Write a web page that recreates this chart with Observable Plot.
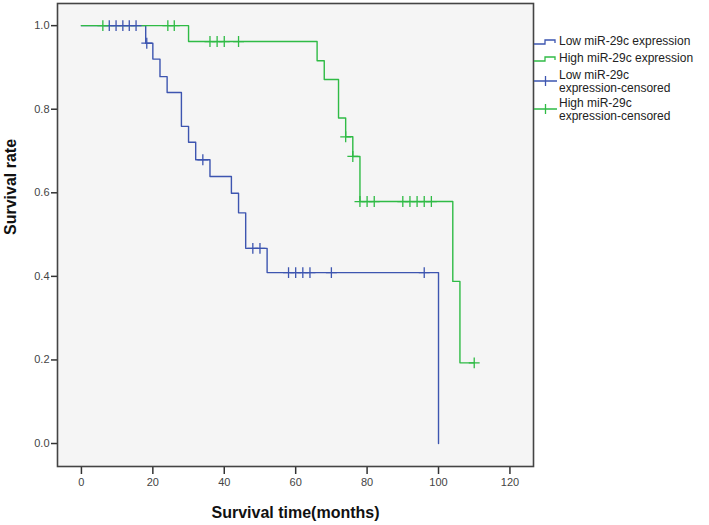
<!DOCTYPE html>
<html>
<head>
<meta charset="utf-8">
<script src="https://cdn.jsdelivr.net/npm/d3@7"></script>
<script src="https://cdn.jsdelivr.net/npm/@observablehq/plot@0.6"></script>
<style>
  html, body { margin: 0; padding: 0; background: #fff; }
  #wrap { position: relative; width: 709px; height: 525px; font-family: "Liberation Sans", Arial, sans-serif; }
  #legend { position: absolute; left: 0; top: 0; pointer-events: none; }
</style>
</head>
<body>
<div id="wrap"></div>
<script>
// ---- data ----
const lowTimes = [0, 18, 20, 22, 24, 28, 30, 32, 36, 42, 44, 46, 52, 100];
const lowSurv  = [1, 0.958, 0.920, 0.878, 0.840, 0.759, 0.721, 0.679, 0.639, 0.599, 0.552, 0.467, 0.409, 0];
const lowCensTimes = [7.8, 9.7, 11.6, 13.4, 15.3, 18.3, 34, 48, 50, 58, 60, 62, 64, 70, 96];
const lowCensSurv  = [1, 1, 1, 1, 1, 0.958, 0.679, 0.467, 0.467, 0.409, 0.409, 0.409, 0.409, 0.409, 0.409];

const highTimes = [0, 30, 66, 68, 72, 74, 76, 78, 104, 106, 110];
const highSurv  = [1, 0.962, 0.916, 0.871, 0.779, 0.734, 0.687, 0.579, 0.388, 0.193, 0.193];
const highCensTimes = [6, 24.2, 26, 36, 38, 40, 44, 74, 76, 78, 80, 82, 90, 92, 94, 96, 98, 110];
const highCensSurv  = [1, 1, 1, 0.962, 0.962, 0.962, 0.962, 0.734, 0.687, 0.579, 0.579, 0.579, 0.579, 0.579, 0.579, 0.579, 0.579, 0.193];

const xTicks = [0, 20, 40, 60, 80, 100, 120];
const yTicks = [0, 0.2, 0.4, 0.6, 0.8, 1.0];
const legendLabels = ["Low miR-29c expression", "High miR-29c expression",
                      "Low miR-29c\nexpression-censored", "High miR-29c\nexpression-censored"];
const xLabel = "Survival time(months)";
const yLabel = "Survival rate";
const blue = "#3d55b0", green = "#2fbb45";

const lowCurve = lowTimes.map((t, i) => ({t, s: lowSurv[i]}));
const highCurve = highTimes.map((t, i) => ({t, s: highSurv[i]}));
const lowCens = lowCensTimes.map((t, i) => ({t, s: lowCensSurv[i]}));
const highCens = highCensTimes.map((t, i) => ({t, s: highCensSurv[i]}));

const chart = Plot.plot({
  width: 709,
  height: 525,
  marginLeft: 57,
  marginRight: 176,
  marginTop: 3,
  marginBottom: 59,
  style: { fontFamily: "Liberation Sans, Arial, sans-serif", background: "#fff" },
  x: { domain: [-6.7, 126.6] },
  y: { domain: [-0.055, 1.053] },
  marks: [
    Plot.frame({ fill: "#f5f5f5", stroke: "none" }),
    Plot.axisX({ ticks: xTicks, tickSize: 8, tickPadding: 4, tickFormat: d => String(d), label: null,
                 fontSize: 11, stroke: "#333", strokeWidth: 1.5, fill: "#444" }),
    Plot.axisY({ ticks: yTicks, tickSize: 6, tickPadding: 2, tickFormat: d3.format(".1f"), label: null,
                 fontSize: 11, stroke: "#333", strokeWidth: 1.5, fill: "#444" }),
    Plot.line(lowCurve, { x: "t", y: "s", curve: "step-after", stroke: blue, strokeWidth: 1.4 }),
    Plot.line(highCurve, { x: "t", y: "s", curve: "step-after", stroke: green, strokeWidth: 1.4 }),
    Plot.dot(lowCens, { x: "t", y: "s", symbol: "plus", r: 3.6, stroke: blue, strokeWidth: 1.3 }),
    Plot.dot(highCens, { x: "t", y: "s", symbol: "plus", r: 3.6, stroke: green, strokeWidth: 1.3 }),
    Plot.frame({ stroke: "#444", strokeWidth: 1.6 }),
    Plot.text([xLabel], { frameAnchor: "bottom", dy: 46, text: d => d, fontSize: 16, fontWeight: "bold",
                          fill: "#111", lineAnchor: "middle" }),
    Plot.text([yLabel], { frameAnchor: "left", dx: -47, rotate: -90, text: d => d, fontSize: 16,
                          fontWeight: "bold", fill: "#111", lineAnchor: "middle" })
  ]
});
document.getElementById("wrap").appendChild(chart);

// ---- legend (right side) ----
const leg = d3.select("#wrap").append("svg").attr("id", "legend")
  .attr("width", 709).attr("height", 525)
  .style("font-family", "Liberation Sans, Arial, sans-serif");
const legendColors = [blue, green, blue, green];
const legendKinds = ["line", "line", "cens", "cens"];
const iconY = [44, 61, 81, 109];
const textRows = [[40.5], [57.5], [74.5, 88], [102.5, 116]];
legendLabels.forEach((lab, i) => {
  const c = legendColors[i];
  const y = iconY[i];
  if (legendKinds[i] === "line") {
    leg.append("path").attr("d", `M534,${y} H545 V${y - 4} H555 V${y - 1}`)
      .attr("fill", "none").attr("stroke", c).attr("stroke-width", 1.3);
  } else {
    leg.append("path").attr("d", `M534,${y} H557 M545.5,${y - 5} V${y + 5}`)
      .attr("fill", "none").attr("stroke", c).attr("stroke-width", 1.3);
  }
  lab.split("\n").forEach((ln, j) => {
    leg.append("text").attr("x", 559).attr("y", textRows[i][j]).attr("dy", "0.35em")
      .attr("font-size", 12).attr("fill", "#222").text(ln);
  });
});
</script>
</body>
</html>
